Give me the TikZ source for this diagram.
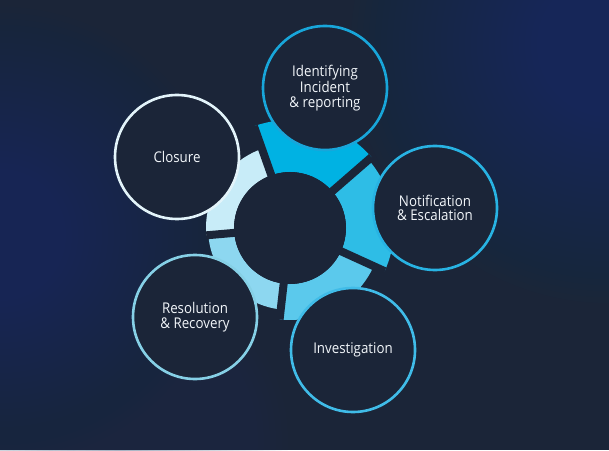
\documentclass[tikz,border=0pt]{standalone}
\usepackage{fontspec}
\setmainfont[FakeStretch=0.9]{Open Sans}
\definecolor{bgbase}{HTML}{1B2538}
\definecolor{bgleft}{HTML}{174878}
\definecolor{bgright}{HTML}{164A7C}
\definecolor{bgbottom}{HTML}{2A4A70}
\definecolor{segA}{HTML}{00B2E3}
\definecolor{segB}{HTML}{2EBDE6}
\definecolor{segC}{HTML}{5BC9EC}
\definecolor{segD}{HTML}{8DD7F0}
\definecolor{segE}{HTML}{C8ECF8}
\definecolor{rimA}{HTML}{18A6DA}
\definecolor{rimB}{HTML}{28B3E3}
\definecolor{rimC}{HTML}{40BCE8}
\definecolor{rimD}{HTML}{86D0E6}
\definecolor{rimE}{HTML}{E3F4FA}
\definecolor{txt}{HTML}{F2F6FA}
\tikzset{
  stagecircle/.style={circle, fill=bgbase, line width=2.6pt, minimum size=124pt, inner sep=0pt,
    text=txt, align=center, font=\fontsize{14.8}{14.6}\selectfont},
  hubdisk/.style={circle, fill=bgbase, minimum size=112pt, inner sep=0pt},
  gapline/.style={draw=bgbase, line width=8pt},
}
\begin{document}
\begin{tikzpicture}[x=1pt,y=1pt]
\useasboundingbox (0,0) rectangle (609,450);
\fill[bgbase] (0,0) rectangle (609,450);
\begin{scope}
  \clip (0,0) rectangle (609,450);
  \foreach \r in {6,12,...,230} \fill[bgleft, opacity=0.028] (0,215) circle (\r);
  \foreach \r in {6,12,...,260} \fill[bgright, opacity=0.026] (609,405) circle (\r);
  \foreach \r in {6,12,...,170} \fill[bgbottom, opacity=0.018] (120,10) circle (\r);
\end{scope}
% ring segments around the hub
\coordinate (H) at (290,222);
\begin{scope}[shift={(290,222)}]
  \fill[segA] (41:108) arc[start angle=41, end angle=109.5, radius=108] -- (109.5:56) arc[start angle=109.5, end angle=41, radius=56] -- cycle;
  \fill[segB] (-24.5:104) arc[start angle=-24.5, end angle=41, radius=104] -- (41:56) arc[start angle=41, end angle=-24.5, radius=56] -- cycle;
  \fill[segC] (-96.5:92) arc[start angle=-96.5, end angle=-24.5, radius=92] -- (-24.5:56) arc[start angle=-24.5, end angle=-96.5, radius=56] -- cycle;
  \fill[segD] (185:82) arc[start angle=185, end angle=263.5, radius=82] -- (263.5:56) arc[start angle=263.5, end angle=185, radius=56] -- cycle;
  \fill[segE] (109.5:84) arc[start angle=109.5, end angle=185, radius=84] -- (185:56) arc[start angle=185, end angle=109.5, radius=56] -- cycle;
  \coordinate (g1) at (109.5:108);
  \coordinate (g2) at (41:108);
  \coordinate (g3) at (-24.5:104);
  \coordinate (g4) at (-96.5:92);
  \coordinate (g5) at (185:84);
\end{scope}
\foreach \g in {g1,g2,g3,g4,g5} \draw[gapline] (H) -- (\g);
\node[hubdisk] (hub) at (H) {};
% stage circles
\node[stagecircle, draw=rimA] (ident) at (325,362) {Identifying\\Incident\\\& reporting};
\node[stagecircle, draw=rimB] (notif) at (435,242) {Notification\\\& Escalation};
\node[stagecircle, draw=rimC] (invest) at (353,100) {Investigation};
\node[stagecircle, draw=rimD] (resol) at (195,133) {Resolution\\\& Recovery};
\node[stagecircle, draw=rimE] (closure) at (177,293) {Closure};
\end{tikzpicture}
\end{document}
